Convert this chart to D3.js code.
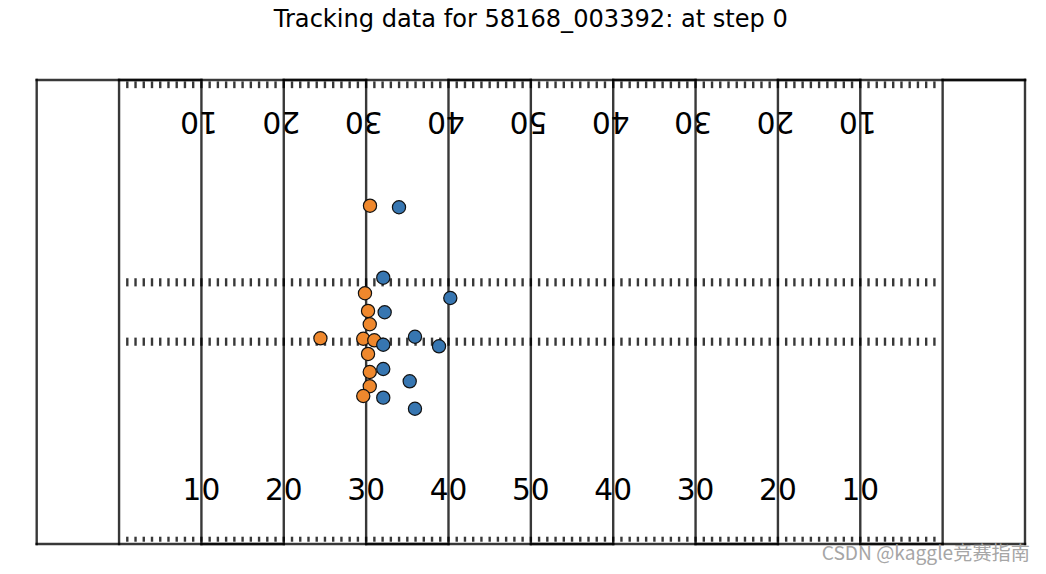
<!DOCTYPE html>
<html><head><meta charset="utf-8">
<script src="https://cdn.jsdelivr.net/npm/d3@7"></script>
<style>body{margin:0;background:#fff}svg{display:block}</style>
</head><body><svg id="c" width="1046" height="574"></svg>
<script>
// ---- data ----
const titleText = "Tracking data for 58168_003392: at step 0";
const watermark = "CSDN @kaggle竞赛指南";
// field outline path (yards), as in the classic create_football_field
const fieldLineX = [10,10,10,20,20,30,30,40,40,50,50,60,60,70,70,80,80,90,90,100,100,110,110,120,0,0,120,120];
const fieldLineY = [0,0,53.3,53.3,0,0,53.3,53.3,0,0,53.3,53.3,0,0,53.3,53.3,0,0,53.3,53.3,0,0,53.3,53.3,53.3,0,0,53.3];
const numberYards = [20,30,40,50,60,70,80,90,100];
const numberLabels = ["10","20","30","40","50","40","30","20","10"];
const hashStart = 11, hashEnd = 110;
const hashRows = [[0.4,0.7],[52.5,53.0],[22.91,23.57],[29.73,30.39]];
// players
const orangeX = [40.47,39.86,40.23,40.44,34.45,39.65,40.99,40.23,40.44,40.44,39.65];
const orangeY = [38.86,28.80,26.77,25.24,23.63,23.58,23.40,21.83,19.76,18.12,17.00];
const blueX = [43.99,42.08,50.22,42.25,45.93,42.08,48.85,42.08,45.29,42.08,45.93];
const blueY = [38.68,30.59,28.26,26.62,23.81,22.89,22.71,20.10,18.69,16.81,15.54];

// ---- drawing ----
const svg = d3.select("#c");
svg.append("rect").attr("width",1046).attr("height",574).attr("fill","#fff");
const x = d3.scaleLinear().domain([0,120]).range([36.7,1025]);
const y = d3.scaleLinear().domain([0,53.3]).range([544,80]);
const lineCol = "#000", lineOp = 0.78, lw = 2.4;

// field lines as separate segments (alpha accumulates where doubled)
const segs = [];
for (let i = 0; i < fieldLineX.length - 1; i++) {
  const a = [fieldLineX[i], fieldLineY[i]], b = [fieldLineX[i+1], fieldLineY[i+1]];
  if (a[0] === b[0] && a[1] === b[1]) continue;
  segs.push([a,b]);
}
svg.append("g").selectAll("line").data(segs).join("line")
  .attr("x1",d=>x(d[0][0])).attr("y1",d=>y(d[0][1]))
  .attr("x2",d=>x(d[1][0])).attr("y2",d=>y(d[1][1]))
  .attr("stroke",lineCol).attr("stroke-opacity",lineOp).attr("stroke-width",lw)
  .attr("stroke-linecap","square");

// hash marks
const hashes = [];
for (let h = hashStart; h < hashEnd; h++) hashRows.forEach(r => hashes.push([h, r[0], r[1]]));
svg.append("g").selectAll("line").data(hashes).join("line")
  .attr("x1",d=>x(d[0])).attr("x2",d=>x(d[0]))
  .attr("y1",d=>y(d[1])).attr("y2",d=>y(d[2]))
  .attr("stroke",lineCol).attr("stroke-opacity",lineOp).attr("stroke-width",lw)
  .attr("stroke-linecap","square");

// yard numbers
const numFont = "DejaVu Sans, sans-serif";
svg.append("g").selectAll("text").data(numberYards).join("text")
  .attr("x",d=>x(d)).attr("y",y(5))
  .attr("text-anchor","middle").attr("font-family",numFont).attr("font-size","29.6px")
  .attr("fill","#000").text((d,i)=>numberLabels[i]);
svg.append("g").selectAll("text").data(numberYards).join("text")
  .attr("transform",d=>`translate(${x(d-0.3)},${y(49.66)}) rotate(180)`)
  .attr("text-anchor","middle").attr("font-family",numFont).attr("font-size","29.6px")
  .attr("fill","#000").text((d,i)=>numberLabels[i]);

// players
const dots = svg.append("g");
dots.selectAll("circle.o").data(orangeX).join("circle").attr("class","o")
  .attr("cx",d=>x(d)).attr("cy",(d,i)=>y(orangeY[i])).attr("r",6.6)
  .attr("fill","#ef882d").attr("stroke","#111").attr("stroke-width",1.2);
dots.selectAll("circle.b").data(blueX).join("circle").attr("class","b")
  .attr("cx",d=>x(d)).attr("cy",(d,i)=>y(blueY[i])).attr("r",6.6)
  .attr("fill","#3776b1").attr("stroke","#111").attr("stroke-width",1.2);

// title
svg.append("text").attr("x",(x(0)+x(120))/2).attr("y",27)
  .attr("text-anchor","middle").attr("font-family",numFont).attr("font-size","24.1px")
  .attr("fill","#000").text(titleText);

// watermark
svg.append("text").attr("x",1030).attr("y",560).attr("text-anchor","end")
  .attr("font-family","'Noto Sans CJK SC', 'Noto Sans', sans-serif").attr("font-size","19.2px")
  .attr("fill","#a6a6a6").text(watermark);
</script></body></html>
